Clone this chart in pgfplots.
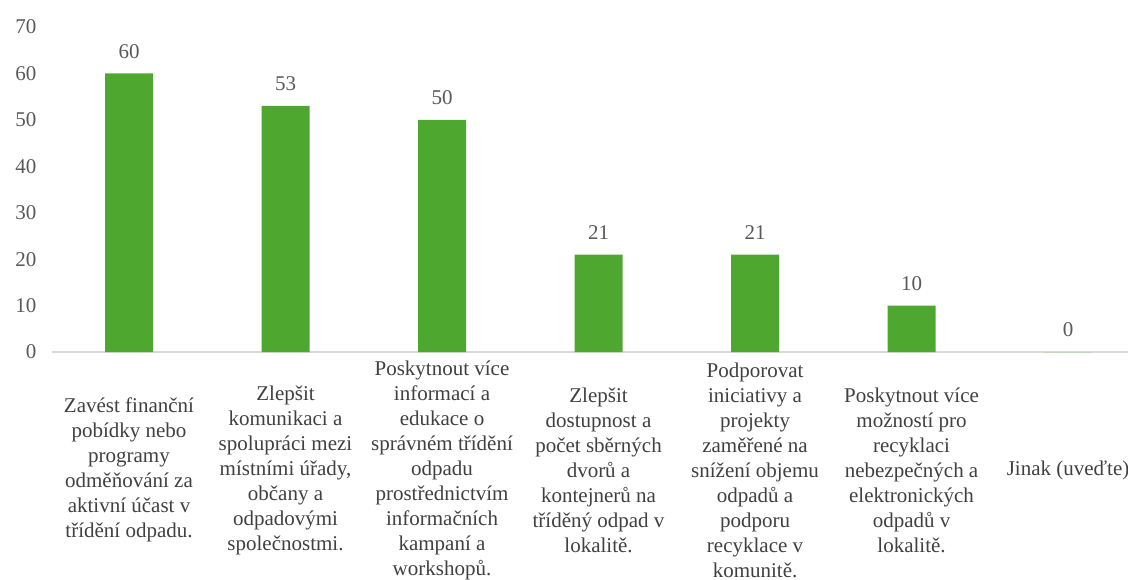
\documentclass[border=0pt]{standalone}
\usepackage{pgfplots}
\pgfplotsset{compat=1.18}
\usepackage{fontspec}
\setmainfont{Liberation Serif}
\definecolor{bargreen}{HTML}{4EA72E}
\definecolor{axisgray}{HTML}{D9D9D9}
\definecolor{numgray}{HTML}{595959}
\definecolor{labgray}{HTML}{404040}
\begin{document}
\begin{tikzpicture}
\begin{axis}[
  scale only axis, width=1076pt, height=325pt,
  xmin=-0.492, xmax=6.383, ymin=0, ymax=70,
  axis x line=bottom, axis y line=left,
  x axis line style={draw=axisgray, line width=1.2pt, -},
  y axis line style={draw=none},
  major tick length=0pt,
  ytick={0,10,...,70},
  xtick={0,1,2,3,4,5,6},
  xticklabels={
    {Zavést finanční\\pobídky nebo\\programy\\odměňování za\\aktivní účast v\\třídění odpadu.},
    {Zlepšit\\komunikaci a\\spolupráci mezi\\místními úřady,\\občany a\\odpadovými\\společnostmi.},
    {Poskytnout více\\informací a\\edukace o\\správném třídění\\odpadu\\prostřednictvím\\informačních\\kampaní a\\workshopů.},
    {Zlepšit\\dostupnost a\\počet sběrných\\dvorů a\\kontejnerů na\\tříděný odpad v\\lokalitě.},
    {Podporovat\\iniciativy a\\projekty\\zaměřené na\\snížení objemu\\odpadů a\\podporu\\recyklace v\\komunitě.},
    {Poskytnout více\\možností pro\\recyklaci\\nebezpečných a\\elektronických\\odpadů v\\lokalitě.},
    {Jinak (uveďte)}},
  xticklabel style={font=\fontsize{21}{25}\selectfont, text=labgray, align=center, anchor=center, yshift=-118pt},
  yticklabel style={font=\fontsize{21}{25}\selectfont, text=numgray, xshift=-12pt},
  /pgf/number format/assume math mode=true,
  nodes near coords,
  every node near coord/.append style={font=\fontsize{21}{25}\selectfont, text=numgray, anchor=center, yshift=22pt},
  clip=false,
]
\addplot[ybar, bar width=48pt, fill=bargreen, draw=none] coordinates {
  (0,60) (1,53) (2,50) (3,21) (4,21) (5,10) (6,0)
};
\coordinate (O) at (rel axis cs:0,0);
\end{axis}
\pgfresetboundingbox
\path (O) ++(-52pt,-227pt) rectangle ++(1128pt,579pt);
\end{tikzpicture}
\end{document}
